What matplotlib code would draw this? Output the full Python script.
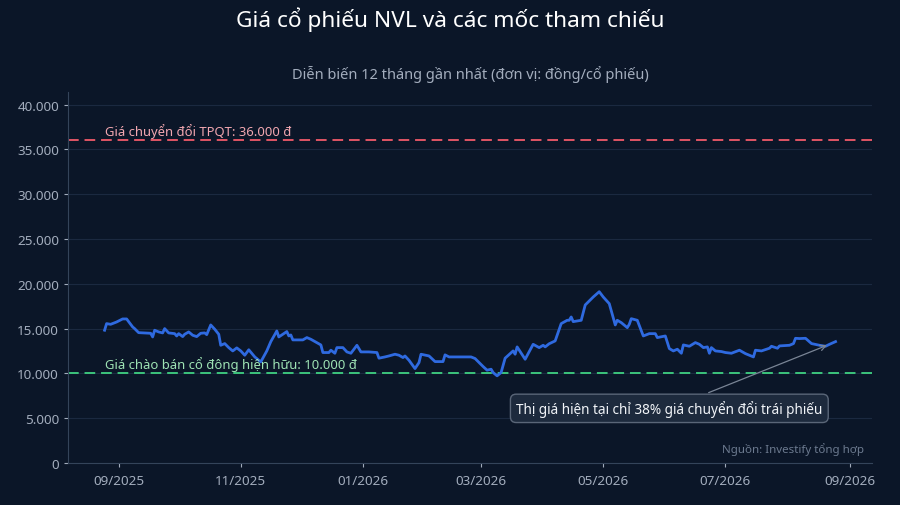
import numpy as np
import pandas as pd
import matplotlib
matplotlib.use('Agg')
from matplotlib import pyplot as plt
import matplotlib.dates as mdates
from matplotlib.ticker import FuncFormatter

plt.rcParams['font.family'] = ['Noto Sans', 'DejaVu Sans']

# Giá đóng cửa NVL (đồng/cổ phiếu)
dates = [
    '2025-08-25', '2025-08-26', '2025-08-28', '2025-08-31', '2025-09-03', '2025-09-05',
    '2025-09-08', '2025-09-09', '2025-09-11', '2025-09-14', '2025-09-17', '2025-09-18',
    '2025-09-19', '2025-09-21', '2025-09-23', '2025-09-24', '2025-09-26', '2025-09-29',
    '2025-09-30', '2025-10-01', '2025-10-03', '2025-10-04', '2025-10-06', '2025-10-08',
    '2025-10-10', '2025-10-12', '2025-10-14', '2025-10-15', '2025-10-17', '2025-10-19',
    '2025-10-21', '2025-10-22', '2025-10-24', '2025-10-26', '2025-10-28', '2025-10-30',
    '2025-11-01', '2025-11-03', '2025-11-05', '2025-11-08', '2025-11-11', '2025-11-14',
    '2025-11-16', '2025-11-19', '2025-11-20', '2025-11-22', '2025-11-24', '2025-11-25',
    '2025-11-26', '2025-11-27', '2025-11-30', '2025-12-02', '2025-12-04', '2025-12-06',
    '2025-12-09', '2025-12-11', '2025-12-12', '2025-12-15', '2025-12-16', '2025-12-18',
    '2025-12-19', '2025-12-22', '2025-12-24', '2025-12-26', '2025-12-29', '2025-12-31',
    '2026-01-04', '2026-01-08', '2026-01-09', '2026-01-12', '2026-01-14', '2026-01-17',
    '2026-01-19', '2026-01-21', '2026-01-22', '2026-01-24', '2026-01-27', '2026-01-29',
    '2026-01-30', '2026-02-03', '2026-02-06', '2026-02-10', '2026-02-11', '2026-02-13',
    '2026-02-17', '2026-02-24', '2026-02-26', '2026-03-02', '2026-03-04', '2026-03-06',
    '2026-03-07', '2026-03-09', '2026-03-11', '2026-03-13', '2026-03-17', '2026-03-18',
    '2026-03-19', '2026-03-23', '2026-03-27', '2026-03-30', '2026-04-01', '2026-04-02',
    '2026-04-04', '2026-04-07', '2026-04-10', '2026-04-13', '2026-04-14', '2026-04-15',
    '2026-04-16', '2026-04-20', '2026-04-22', '2026-04-26', '2026-04-29', '2026-05-01',
    '2026-05-04', '2026-05-07', '2026-05-08', '2026-05-10', '2026-05-13', '2026-05-14',
    '2026-05-15', '2026-05-18', '2026-05-21', '2026-05-24', '2026-05-27', '2026-05-28',
    '2026-06-01', '2026-06-03', '2026-06-05', '2026-06-07', '2026-06-09', '2026-06-10',
    '2026-06-13', '2026-06-16', '2026-06-18', '2026-06-20', '2026-06-22', '2026-06-23',
    '2026-06-24', '2026-06-26', '2026-06-29', '2026-07-01', '2026-07-04', '2026-07-08',
    '2026-07-11', '2026-07-15', '2026-07-16', '2026-07-19', '2026-07-23', '2026-07-24',
    '2026-07-27', '2026-07-28', '2026-08-02', '2026-08-04', '2026-08-05', '2026-08-07',
    '2026-08-10', '2026-08-13', '2026-08-17', '2026-08-20', '2026-08-22', '2026-08-25',
]
prices = [
    14820, 15560, 15480, 15740, 16080, 16080,
    15190, 15000, 14550, 14520, 14480, 14070,
    14820, 14630, 14520, 15000, 14520, 14440,
    14180, 14440, 14110, 14370, 14630, 14260,
    14110, 14480, 14520, 14330, 15410, 14930,
    14370, 13140, 13330, 12880, 12510, 12850,
    12510, 12030, 12640, 11840, 11290, 12510,
    13550, 14740, 14070, 14370, 14670, 14180,
    14290, 13740, 13740, 13740, 14000, 13810,
    13440, 13180, 12330, 12330, 12590, 12250,
    12880, 12880, 12400, 12250, 13140, 12400,
    12400, 12330, 11700, 11840, 11950, 12140,
    12030, 11770, 11950, 11470, 10540, 11210,
    12140, 11950, 11320, 11320, 12070, 11840,
    11840, 11840, 11660, 10770, 10360, 10470,
    10100, 9730, 10100, 11700, 12510, 12140,
    12960, 11580, 13250, 12880, 13140, 12960,
    13310, 13630, 15560, 15930, 15930, 16300,
    15780, 15930, 17640, 18530, 19120, 18530,
    17790, 15410, 15930, 15670, 15110, 15480,
    16110, 15930, 14180, 14440, 14440, 14000,
    14180, 12770, 12510, 12700, 12250, 13180,
    13030, 13440, 13250, 12880, 12960, 12250,
    12880, 12510, 12440, 12330, 12250, 12590,
    12210, 11840, 12590, 12510, 12810, 13030,
    12810, 13070, 13140, 13330, 13920, 13890,
    13920, 13330, 13140, 13030, 13250, 13550,
]

conv_price = 36000      # Giá chuyển đổi TPQT
offer_price = 10000     # Giá chào bán cổ đông hiện hữu

df = pd.DataFrame({'date': pd.to_datetime(dates), 'price': prices})

bg = '#0b1628'
grid_c = '#1b2940'
tick_c = '#a3adbd'

fig = plt.figure(figsize=(9, 5.06), dpi=100, facecolor=bg)
ax = fig.add_axes([0.0756, 0.083, 0.8934, 0.733])
ax.set_facecolor(bg)

ax.plot(df['date'], df['price'], color='#2f6ae0', linewidth=2, zorder=3)

ax.axhline(conv_price, color='#e05565', linestyle=(0, (5.5, 3)), linewidth=1.4, zorder=2)
ax.axhline(offer_price, color='#3cc47c', linestyle=(0, (5.5, 3)), linewidth=1.4, zorder=2)

ax.text(df['date'].iloc[0], conv_price + 250, 'Giá chuyển đổi TPQT: 36.000 đ',
        color='#f2a7b0', fontsize=9.4, va='bottom', ha='left')
ax.text(df['date'].iloc[0], offer_price + 250, 'Giá chào bán cổ đông hiện hữu: 10.000 đ',
        color='#9ee3b4', fontsize=9.4, va='bottom', ha='left')

ax.annotate('Thị giá hiện tại chỉ 38% giá chuyển đổi trái phiếu',
            xy=(pd.Timestamp('2026-08-22'), 13250),
            xytext=(pd.Timestamp('2026-06-03'), 6100),
            color='#f1f4f8', fontsize=9.8, ha='center', va='center',
            bbox=dict(boxstyle='round,pad=0.42', fc='#1d2a3d', ec='#5a6678', lw=1),
            arrowprops=dict(arrowstyle='->', color='#7a8596', lw=0.9),
            zorder=5)

ax.text(0.99, 0.038, 'Nguồn: Investify tổng hợp', transform=ax.transAxes,
        ha='right', va='center', color='#6c7a8f', fontsize=8.3)

ax.set_ylim(0, conv_price * 1.15)
ax.set_yticks(np.arange(0, 40001, 5000))
ax.yaxis.set_major_formatter(FuncFormatter(lambda v, p: f'{int(v):,}'.replace(',', '.')))
ax.xaxis.set_major_locator(mdates.MonthLocator(bymonth=[1, 3, 5, 7, 9, 11]))
ax.xaxis.set_major_formatter(mdates.DateFormatter('%m/%Y'))

ax.grid(axis='y', color=grid_c, linewidth=0.8)
ax.set_axisbelow(True)
for s in ['top', 'right']:
    ax.spines[s].set_visible(False)
for s in ['left', 'bottom']:
    ax.spines[s].set_color('#34445a')
ax.tick_params(colors=tick_c, labelsize=9.7, length=3, width=0.8)
ax.tick_params(axis='x', pad=5)

ax.set_title('Diễn biến 12 tháng gần nhất (đơn vị: đồng/cổ phiếu)', color='#a3adbd',
             fontsize=10.5, pad=10)
fig.suptitle('Giá cổ phiếu NVL và các mốc tham chiếu', color='white', fontsize=16.3, y=0.985)

fig.savefig('out.png', dpi=100, facecolor=bg)
